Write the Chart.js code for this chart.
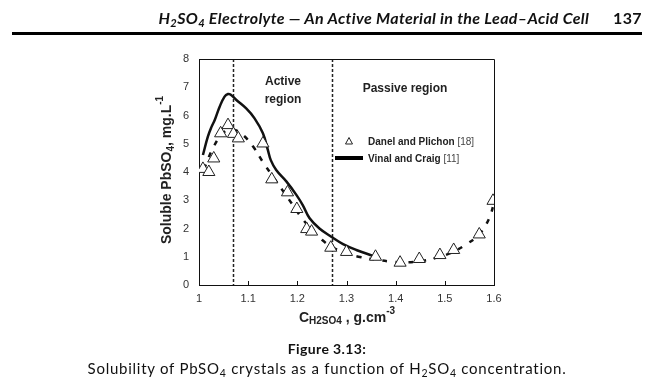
<!DOCTYPE html>
<html lang="en">
<head>
<meta charset="UTF-8">
<title>Solubility of PbSO4</title>
<script src="https://cdn.jsdelivr.net/npm/chart.js"></script>
<style>
  body { margin: 0; background: #fff; }
  #page { position: relative; width: 666px; height: 388px; overflow: hidden; }
  #chart { position: absolute; left: 0; top: 0; }
  .header { position: absolute; top: 8px; right: 24px; font-family: Lato, "Open Sans", sans-serif;
            font-style: italic; font-weight: bold; font-size: 16px; letter-spacing: 0.35px; color: #111; white-space: nowrap; }
  .header .pg { margin-left: 24px; font-style: normal; }
  .rule { position: absolute; left: 12px; top: 32px; width: 630px; height: 3px; background: #000; }
  .caption { position: absolute; left: 0; width: 654px; text-align: center; font-family: Lato, "Open Sans", sans-serif;
             font-size: 15px; color: #111; }
  .cap1 { top: 340px; font-weight: bold; font-size: 14px; letter-spacing: 0.4px; }
  .cap2 { top: 359px; letter-spacing: 0.75px; }
  sub { font-size: 70%; vertical-align: -3px; line-height: 0; }
</style>
</head>
<body>
<div id="page">
  <canvas id="chart" width="666" height="388"></canvas>
  <div class="header">H<sub>2</sub>SO<sub>4</sub> Electrolyte — An Active Material in the Lead–Acid Cell<span class="pg">137</span></div>
  <div class="rule"></div>
  <div class="caption cap1">Figure 3.13:</div>
  <div class="caption cap2">Solubility of PbSO<sub>4</sub> crystals as a function of H<sub>2</sub>SO<sub>4</sub> concentration.</div>
</div>
<script>
// Danel and Plichon [18] - triangles
const danelX = [1.008, 1.020, 1.030, 1.044, 1.059, 1.070, 1.080, 1.130, 1.148, 1.180, 1.199, 1.219, 1.229, 1.268, 1.300, 1.359, 1.409, 1.448, 1.490, 1.518, 1.570, 1.598];
const danelY = [4.11, 4.00, 4.48, 5.37, 5.66, 5.35, 5.19, 5.01, 3.74, 3.28, 2.69, 1.98, 1.89, 1.32, 1.17, 1.00, 0.79, 0.92, 1.06, 1.24, 1.79, 2.98];

// dashed trend through the triangles
const fitX = [1.01, 1.03, 1.05, 1.07, 1.09, 1.11, 1.13, 1.15, 1.17, 1.19, 1.21, 1.23, 1.25, 1.27, 1.30, 1.33, 1.36, 1.39, 1.42, 1.45, 1.48, 1.51, 1.54, 1.57, 1.59, 1.60];
const fitY = [4.1, 4.9, 5.4, 5.5, 5.3, 4.9, 4.35, 3.85, 3.35, 2.85, 2.35, 1.95, 1.6, 1.35, 1.12, 0.98, 0.9, 0.83, 0.8, 0.84, 0.95, 1.12, 1.4, 1.8, 2.35, 2.9];

// Vinal and Craig [11] - solid line
const vinalX = [1.008, 1.018, 1.025, 1.032, 1.042, 1.052, 1.059, 1.064, 1.076, 1.096, 1.113, 1.130, 1.140, 1.146, 1.157, 1.178, 1.198, 1.211, 1.225, 1.245, 1.269, 1.293, 1.320, 1.354];
const vinalY = [4.6, 5.25, 5.58, 5.84, 6.31, 6.67, 6.76, 6.74, 6.55, 6.25, 5.9, 5.37, 4.78, 4.42, 4.07, 3.66, 3.19, 2.83, 2.36, 2.0, 1.71, 1.45, 1.24, 1.03];

const regionBounds = [1.07, 1.27];
const xTicks = [1, 1.1, 1.2, 1.3, 1.4, 1.5, 1.6];

const pts = (xs, ys) => xs.map((x, i) => ({ x: x, y: ys[i] }));
const ARIAL = '"Liberation Sans", Arial, sans-serif';

function drawParts(ctx, parts, x, y, align) {
    let total = 0;
    parts.forEach(p => { ctx.font = p.font; total += ctx.measureText(p.text).width; });
    let cx = align === 'center' ? x - total / 2 : x;
    parts.forEach(p => {
        ctx.font = p.font;
        ctx.fillStyle = p.color || '#222';
        ctx.fillText(p.text, cx, y + (p.dy || 0));
        cx += ctx.measureText(p.text).width;
    });
}

const extras = {
    id: 'extras',
    beforeDatasetsDraw(chart) {
        const ctx = chart.ctx, a = chart.chartArea, xs = chart.scales.x;
        ctx.save();
        // region boundaries
        ctx.strokeStyle = '#222';
        ctx.lineWidth = 1.5;
        ctx.setLineDash([3, 2]);
        regionBounds.forEach(v => {
            const px = Math.round(xs.getPixelForValue(v)) + 0.5;
            ctx.beginPath(); ctx.moveTo(px, a.top); ctx.lineTo(px, a.bottom); ctx.stroke();
        });
        ctx.restore();
    },
    afterDraw(chart) {
        const ctx = chart.ctx, a = chart.chartArea, xs = chart.scales.x;
        ctx.save();
        // frame top and right
        ctx.strokeStyle = '#111';
        ctx.lineWidth = 1;
        ctx.beginPath();
        ctx.moveTo(a.left, a.top + 0.5); ctx.lineTo(a.right + 0.5, a.top + 0.5); ctx.lineTo(a.right + 0.5, a.bottom);
        ctx.stroke();
        // inward ticks on x axis
        xTicks.forEach(v => {
            const px = Math.round(xs.getPixelForValue(v)) + 0.5;
            ctx.beginPath(); ctx.moveTo(px, a.bottom); ctx.lineTo(px, a.bottom - 4); ctx.stroke();
        });

        ctx.textBaseline = 'alphabetic';
        ctx.textAlign = 'left';
        // region labels
        const rb = 'bold 12px ' + ARIAL;
        drawParts(ctx, [{ text: 'Active', font: rb }], 283, 85, 'center');
        drawParts(ctx, [{ text: 'region', font: rb }], 283, 103, 'center');
        drawParts(ctx, [{ text: 'Passive region', font: rb }], 405, 92, 'center');

        // legend
        const lb = 'bold 10px ' + ARIAL, ln = '10px ' + ARIAL;
        ctx.strokeStyle = '#222'; ctx.lineWidth = 1; ctx.setLineDash([]);
        ctx.beginPath(); ctx.moveTo(349, 137.5); ctx.lineTo(352.5, 144); ctx.lineTo(345.5, 144); ctx.closePath(); ctx.stroke();
        drawParts(ctx, [{ text: 'Danel and Plichon ', font: lb }, { text: '[18]', font: ln, color: '#444' }], 368, 144.5, 'left');
        ctx.fillStyle = '#000';
        ctx.fillRect(335, 156, 28, 4);
        drawParts(ctx, [{ text: 'Vinal and Craig ', font: lb }, { text: '[11]', font: ln, color: '#444' }], 368, 162, 'left');

        // x axis title
        const tb = 'bold 14px ' + ARIAL, sb = 'bold 10px ' + ARIAL;
        drawParts(ctx, [
            { text: 'C', font: tb },
            { text: 'H2SO4', font: sb, dy: 2 },
            { text: ' , g.cm', font: tb },
            { text: '-3', font: sb, dy: -8 }
        ], 347, 322, 'center');

        // y axis title
        ctx.translate(171, 170);
        ctx.rotate(-Math.PI / 2);
        drawParts(ctx, [
            { text: 'Soluble PbSO', font: tb },
            { text: '4', font: sb, dy: 3 },
            { text: ', mg.L', font: tb },
            { text: '-1', font: sb, dy: -8 }
        ], 0, 0, 'center');
        ctx.restore();
    }
};

new Chart(document.getElementById('chart'), {
    type: 'scatter',
    data: {
        datasets: [
            {
                label: 'Danel and Plichon [18]',
                data: pts(danelX, danelY),
                pointStyle: 'triangle',
                pointRadius: 7,
                pointBackgroundColor: '#fff',
                pointBorderColor: '#222',
                pointBorderWidth: 1,
                showLine: false,
                order: 0
            },
            {
                label: 'trend',
                data: pts(fitX, fitY),
                showLine: true,
                borderColor: '#111',
                borderWidth: 2.5,
                borderDash: [5, 8],
                tension: 0.4,
                pointRadius: 0,
                order: 2
            },
            {
                label: 'Vinal and Craig [11]',
                data: pts(vinalX, vinalY),
                showLine: true,
                borderColor: '#111',
                borderWidth: 2.5,
                tension: 0.4,
                pointRadius: 0,
                order: 1
            }
        ]
    },
    options: {
        responsive: false,
        animation: false,
        layout: { padding: { left: 0, right: 172, top: 59, bottom: 0 } },
        plugins: { legend: { display: false }, tooltip: { enabled: false } },
        scales: {
            x: {
                type: 'linear', min: 1, max: 1.6,
                afterBuildTicks: s => { s.ticks = xTicks.map(v => ({ value: v })); },
                afterFit: s => { s.height = 103; },
                grid: { display: false, drawTicks: false },
                border: { display: true, color: '#111', width: 1 },
                ticks: { padding: 7, color: '#333', font: { family: ARIAL, size: 11 }, maxRotation: 0,
                         callback: v => String(+v.toFixed(1)) }
            },
            y: {
                min: 0, max: 8,
                afterFit: s => { s.width = 199; },
                grid: { display: false, drawTicks: false },
                border: { display: true, color: '#111', width: 1 },
                ticks: { stepSize: 1, padding: 10, color: '#333', font: { family: ARIAL, size: 11 } }
            }
        }
    },
    plugins: [extras]
});
</script>
</body>
</html>
